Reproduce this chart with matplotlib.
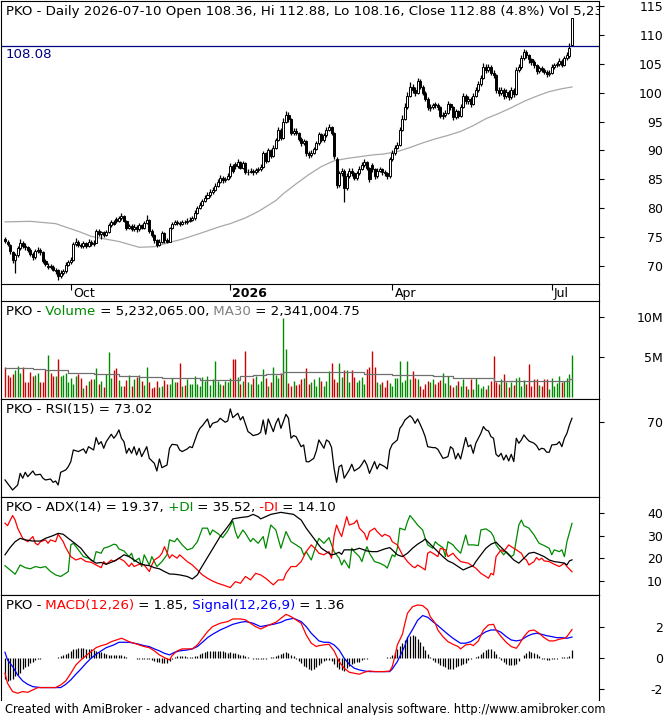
import numpy as np
import matplotlib
matplotlib.use("Agg")
import matplotlib.pyplot as plt

# ---- daily bars (bar number 0 .. 224, last bar = 2026-07-10) ----
bar_open = [
    74.6, 74.2, 73.6, 72.4, 71.0, 71.8, 73.0, 74.0, 73.5, 73.2,
    72.8, 72.0, 71.5, 72.5, 72.8, 72.3, 70.8, 69.7, 70.0, 69.8,
    69.0, 69.2, 68.3, 68.8, 69.0, 70.2, 70.6, 71.0, 73.8, 74.2,
    73.6, 73.4, 73.9, 73.5, 74.2, 73.8, 74.0, 76.0, 75.5, 75.8,
    75.4, 75.8, 77.0, 77.5, 78.1, 77.8, 78.2, 78.6, 77.8, 76.6,
    76.9, 76.4, 76.8, 76.3, 77.0, 76.6, 77.4, 78.0, 76.0, 75.3,
    74.4, 73.6, 74.2, 75.6, 74.4, 74.2, 76.5, 77.2, 77.6, 77.4,
    77.3, 77.6, 77.5, 77.8, 78.0, 78.2, 79.2, 80.0, 80.5, 81.2,
    81.8, 82.3, 82.8, 83.2, 83.8, 84.5, 85.2, 84.8, 85.0, 85.5,
    87.3, 87.6, 87.3, 88.0, 87.0, 87.8, 86.2, 86.3, 86.5, 86.2,
    86.6, 86.8, 87.2, 89.5, 88.2, 90.0, 89.0, 90.5, 91.8, 93.5,
    92.2, 95.0, 96.2, 95.5, 93.0, 93.4, 93.0, 92.0, 91.2, 91.6,
    89.5, 89.2, 89.6, 90.2, 91.2, 92.8, 91.8, 92.6, 93.6, 94.0,
    93.0, 88.5, 84.0, 86.0, 86.5, 83.5, 85.5, 86.5, 86.0, 85.2,
    86.0, 86.8, 87.5, 88.0, 87.0, 87.5, 86.8, 85.5, 86.5, 86.8,
    86.2, 86.0, 85.5, 88.5, 89.5, 90.5, 91.0, 93.5, 95.5, 97.5,
    99.5, 101.0, 100.5, 100.0, 102.0, 101.0, 100.0, 99.0, 97.3, 97.5,
    98.0, 97.8, 97.5, 96.0, 96.2, 96.5, 98.0, 97.5, 95.8, 96.8,
    96.0, 97.5, 99.5, 98.5, 99.0, 98.0, 99.5, 100.5, 101.5, 102.5,
    104.5, 104.0, 104.5, 103.5, 103.0, 100.5, 100.0, 100.5, 99.5, 100.2,
    99.3, 100.5, 99.8, 104.0, 104.5, 106.0, 107.0, 106.5, 105.8, 105.3,
    104.8, 103.8, 104.3, 104.0, 103.6, 103.2, 103.5, 104.5, 104.8, 105.0,
    105.5, 104.8, 106.0, 106.3, 108.36]
bar_high = [
    75.0, 74.5, 73.8, 72.6, 72.2, 73.4, 74.6, 74.3, 73.9, 73.5,
    73.0, 72.3, 72.9, 73.2, 73.0, 72.5, 71.2, 70.4, 70.3, 70.1,
    69.6, 69.5, 69.2, 69.5, 70.6, 71.0, 71.5, 74.2, 74.8, 74.5,
    74.0, 74.3, 74.2, 74.6, 74.5, 74.4, 76.4, 76.3, 76.0, 76.1,
    76.2, 77.4, 78.0, 77.9, 78.4, 78.6, 79.1, 78.8, 78.0, 77.3,
    77.2, 77.2, 77.0, 77.4, 77.3, 77.8, 78.8, 78.1, 76.3, 75.5,
    74.6, 74.6, 76.0, 75.8, 74.8, 76.8, 77.6, 78.0, 77.9, 77.8,
    78.0, 77.9, 78.2, 78.4, 78.6, 79.6, 80.4, 81.0, 81.6, 82.3,
    82.8, 83.3, 83.6, 84.3, 85.0, 85.7, 85.5, 85.4, 86.0, 87.8,
    87.6, 88.0, 88.5, 88.2, 88.2, 88.0, 86.7, 86.9, 86.8, 87.0,
    87.2, 87.6, 89.9, 89.7, 90.4, 90.3, 90.9, 92.2, 94.0, 93.8,
    95.6, 96.8, 96.6, 95.7, 93.9, 93.8, 93.2, 92.3, 92.0, 91.8,
    89.9, 90.0, 90.6, 91.6, 93.2, 93.0, 93.0, 94.0, 94.5, 94.2,
    93.2, 88.8, 86.5, 87.0, 86.7, 86.0, 87.0, 86.9, 86.3, 86.4,
    87.3, 88.0, 88.5, 88.2, 87.2, 87.9, 87.0, 86.9, 87.2, 87.0,
    86.6, 86.3, 88.9, 90.0, 91.0, 91.5, 94.0, 96.2, 98.2, 100.2,
    101.8, 101.6, 101.0, 102.6, 102.3, 101.3, 100.3, 99.3, 98.0, 98.3,
    98.4, 98.2, 97.7, 96.7, 97.0, 98.5, 98.3, 97.7, 97.2, 97.0,
    98.0, 100.0, 99.8, 99.5, 99.3, 100.0, 101.0, 102.0, 103.0, 105.2,
    105.0, 105.0, 104.8, 104.0, 103.2, 101.0, 101.0, 100.8, 100.7, 100.5,
    101.0, 100.8, 104.5, 105.0, 106.6, 107.6, 107.4, 106.8, 106.1, 105.6,
    105.0, 104.7, 104.6, 104.3, 103.9, 103.9, 104.9, 105.2, 105.4, 106.0,
    105.8, 106.4, 107.0, 108.6, 112.88]
bar_low = [
    73.9, 73.4, 72.0, 70.4, 68.8, 71.5, 72.7, 73.1, 72.8, 72.4,
    71.6, 71.0, 71.2, 72.2, 71.9, 70.5, 70.0, 69.4, 69.4, 69.0,
    68.6, 67.6, 67.9, 68.4, 68.8, 69.9, 70.3, 70.8, 73.4, 73.2,
    73.0, 73.1, 73.1, 73.3, 73.4, 73.5, 73.9, 75.1, 74.6, 75.0,
    75.1, 75.6, 76.8, 77.0, 77.4, 77.5, 78.0, 77.5, 76.2, 76.3,
    76.0, 76.1, 75.9, 76.0, 76.3, 76.4, 77.2, 75.7, 75.0, 74.0,
    73.3, 73.4, 74.0, 74.0, 73.9, 74.1, 76.3, 77.0, 77.1, 76.9,
    77.1, 77.2, 77.3, 77.6, 77.8, 78.0, 79.0, 79.8, 80.3, 81.0,
    81.6, 82.0, 82.5, 83.0, 83.6, 84.3, 84.4, 84.5, 84.8, 85.3,
    86.1, 86.8, 87.0, 86.7, 86.8, 85.9, 85.8, 86.0, 85.8, 85.9,
    86.3, 86.5, 87.0, 87.9, 88.0, 88.7, 88.8, 90.3, 91.6, 91.8,
    92.0, 94.7, 95.0, 92.6, 92.6, 92.6, 91.6, 90.8, 90.9, 89.1,
    88.7, 88.9, 89.3, 90.0, 91.0, 91.4, 91.5, 92.4, 93.3, 92.6,
    88.5, 83.5, 83.6, 85.6, 81.0, 83.2, 85.2, 85.6, 84.8, 84.9,
    85.8, 86.6, 87.2, 86.6, 84.6, 86.3, 85.0, 85.3, 86.2, 85.8,
    85.6, 85.0, 85.3, 88.2, 89.2, 90.2, 90.8, 93.3, 95.2, 97.2,
    99.2, 100.0, 99.5, 99.8, 100.6, 99.6, 98.6, 97.0, 96.8, 97.1,
    97.3, 97.0, 95.6, 95.5, 95.8, 96.3, 97.0, 95.3, 95.5, 95.6,
    95.8, 97.3, 98.0, 98.1, 97.6, 97.8, 99.2, 100.2, 101.2, 102.3,
    103.5, 103.6, 103.0, 102.5, 100.0, 99.4, 99.6, 99.0, 99.1, 98.8,
    99.0, 99.3, 99.6, 103.6, 104.2, 105.6, 106.0, 105.2, 104.8, 104.3,
    103.3, 103.4, 103.6, 103.2, 102.8, 102.9, 103.3, 104.2, 104.5, 104.7,
    104.4, 104.6, 105.7, 106.0, 108.16]
bar_close = [
    74.3, 73.8, 72.5, 71.0, 71.8, 73.0, 74.0, 73.5, 73.2, 72.8,
    72.0, 71.5, 72.5, 72.8, 72.3, 70.8, 70.3, 70.0, 69.8, 69.3,
    69.2, 68.3, 68.8, 69.0, 70.2, 70.6, 71.0, 73.8, 74.2, 73.6,
    73.4, 73.9, 73.5, 74.2, 73.8, 74.0, 76.0, 75.5, 75.8, 75.4,
    75.8, 77.0, 77.5, 77.3, 77.8, 78.2, 78.6, 77.8, 76.6, 76.9,
    76.4, 76.8, 76.3, 77.0, 76.6, 77.4, 78.0, 76.0, 75.3, 74.4,
    73.6, 74.2, 75.6, 74.4, 74.2, 76.5, 77.2, 77.6, 77.4, 77.3,
    77.6, 77.5, 77.8, 78.0, 78.2, 79.2, 80.0, 80.5, 81.2, 81.8,
    82.3, 82.8, 83.2, 83.8, 84.5, 85.2, 84.8, 85.0, 85.5, 87.3,
    86.5, 87.3, 88.0, 87.0, 87.8, 86.3, 86.3, 86.5, 86.2, 86.6,
    86.8, 87.2, 89.5, 88.2, 90.0, 89.0, 90.5, 91.8, 93.5, 92.2,
    95.0, 96.2, 95.5, 93.0, 93.4, 93.0, 92.0, 91.2, 91.6, 89.5,
    89.2, 89.6, 90.2, 91.2, 92.8, 91.8, 92.6, 93.6, 94.0, 93.0,
    89.0, 84.0, 86.0, 86.5, 83.5, 85.5, 86.5, 86.0, 85.2, 86.0,
    86.8, 87.5, 88.0, 87.0, 85.0, 86.8, 85.5, 86.5, 86.8, 86.2,
    86.0, 85.5, 88.5, 89.5, 90.5, 91.0, 93.5, 95.5, 97.5, 99.5,
    101.0, 100.5, 100.0, 102.0, 101.0, 100.0, 99.0, 97.5, 97.5, 97.8,
    97.8, 97.5, 96.0, 96.2, 96.5, 98.0, 97.5, 95.8, 96.8, 96.0,
    97.5, 99.5, 98.5, 99.0, 98.0, 99.5, 100.5, 101.5, 102.5, 104.5,
    104.0, 104.5, 103.5, 103.0, 100.5, 100.0, 100.5, 99.5, 100.2, 99.3,
    100.5, 99.8, 104.0, 104.5, 106.0, 107.0, 106.5, 105.8, 105.3, 104.8,
    103.8, 104.3, 104.0, 103.6, 103.2, 103.5, 104.5, 104.8, 105.0, 105.5,
    104.8, 106.0, 106.5, 107.7, 112.88]

# volume in millions of shares
volume_m = [
    3.8, 2.7, 2.5, 2.8, 3.4, 3.9, 3.0, 3.7, 1.8, 1.8,
    3.1, 2.6, 2.7, 3.0, 1.8, 1.8, 3.4, 5.25, 3.0, 2.6,
    2.6, 4.75, 2.6, 2.7, 3.0, 1.8, 2.3, 1.6, 2.6, 2.8,
    2.3, 1.1, 1.5, 2.0, 2.2, 2.2, 3.65, 1.6, 2.0, 1.2,
    2.8, 5.6, 2.4, 3.4, 3.6, 2.1, 1.4, 1.3, 2.1, 2.7,
    1.4, 2.2, 2.5, 2.7, 2.0, 1.5, 3.8, 1.9, 1.1, 1.2,
    2.0, 1.2, 1.4, 2.1, 1.6, 1.6, 2.4, 1.8, 1.9, 4.3,
    1.3, 1.5, 2.2, 1.6, 1.6, 2.6, 1.6, 1.4, 2.5, 2.0,
    2.6, 1.5, 2.2, 4.5, 2.0, 1.6, 1.5, 2.0, 1.9, 2.4,
    4.75, 4.75, 2.5, 1.6, 2.0, 5.75, 1.8, 1.6, 2.3, 2.6,
    1.6, 2.0, 3.5, 2.4, 1.4, 1.9, 3.7, 2.7, 2.3, 3.0,
    9.95, 6.0, 1.7, 1.4, 2.0, 1.5, 1.6, 2.2, 2.3, 3.6,
    1.6, 1.9, 2.2, 1.4, 2.5, 2.0, 1.3, 2.0, 3.2, 4.3,
    2.2, 1.9, 4.2, 2.5, 3.3, 3.4, 1.8, 3.4, 2.5, 1.9,
    2.1, 2.5, 1.6, 3.5, 3.8, 5.75, 3.7, 1.9, 1.6, 1.9,
    1.2, 2.1, 1.7, 1.4, 2.3, 2.4, 4.5, 1.8, 2.1, 4.5,
    2.2, 3.2, 2.4, 2.2, 1.3, 1.0, 1.6, 2.0, 1.9, 2.2,
    1.6, 1.9, 2.1, 3.0, 1.7, 2.6, 1.5, 1.2, 1.5, 2.0,
    1.3, 2.2, 1.3, 1.0, 2.2, 1.0, 2.3, 1.6, 1.1, 1.4,
    1.0, 1.5, 2.0, 5.1, 1.8, 1.6, 2.2, 2.8, 1.8, 1.2,
    1.8, 1.5, 2.3, 2.5, 1.4, 2.1, 1.6, 4.1, 1.3, 2.2,
    2.2, 1.5, 1.3, 2.2, 2.2, 1.0, 2.3, 1.4, 1.7, 2.6,
    1.8, 2.0, 2.3, 2.8, 5.232065]

# moving averages: (bar, value)
price_ma = [(0, 77.6), (10, 77.7), (20, 77.3), (30, 75.8), (34, 75.1), (40, 74.6),
            (45, 74.2), (53, 73.2), (59, 73.3), (65, 74.05), (70, 74.6), (77, 75.6),
            (85, 76.8), (89, 77.3), (95, 78.3), (100, 79.4), (103, 80.2), (107, 81.3),
            (110, 82.5), (115, 84.2), (120, 85.8), (125, 87.2), (130, 88.2), (135, 88.6),
            (140, 88.9), (145, 89.2), (150, 89.4), (155, 89.8), (160, 90.5), (165, 91.3),
            (170, 92.0), (175, 92.6), (180, 93.3), (185, 94.3), (190, 95.5), (195, 96.4),
            (200, 97.4), (205, 98.5), (210, 99.4), (215, 100.2), (220, 100.7), (224, 101.0)]
volume_ma = [(0, 3.6), (11, 3.5), (16, 3.3), (25, 3.0), (35, 2.8), (45, 2.6), (53, 2.5),
             (62, 2.4), (72, 2.3), (77, 2.1), (90, 2.1), (93, 2.6), (98, 2.7), (103, 2.9),
             (109, 2.9), (110, 3.1), (120, 3.1), (130, 3.1), (142, 2.8), (152, 2.8),
             (153, 2.7), (168, 2.7), (169, 2.6), (176, 2.6), (177, 2.3), (192, 2.3),
             (193, 2.0), (221, 2.0), (223, 2.2), (224, 2.34)]

rsi_pts = [
    (0, 26.3), (3, 18.7), (5, 22.5), (6, 31.3), (7, 27.6), (8, 32.1), (9, 28.8), (11, 33.1),
    (12, 30.1), (14, 30.6), (15, 27.6), (16, 26.3), (18, 27.0), (19, 24.5), (20, 25.5),
    (21, 22.5), (22, 32.1), (24, 33.9), (25, 36.4), (26, 40.2), (27, 49.0), (29, 47.8),
    (31, 49.8), (32, 46.5), (33, 51.5), (35, 49.0), (36, 58.4), (37, 53.3), (38, 55.3),
    (39, 50.3), (40, 55.3), (42, 60.9), (43, 57.9), (44, 60.4), (45, 64.2), (46, 57.9),
    (47, 55.3), (48, 46.5), (49, 50.3), (50, 46.5), (51, 51.5), (52, 45.2), (53, 50.3),
    (54, 44.0), (56, 51.5), (57, 42.7), (59, 38.9), (60, 33.1), (61, 42.2), (62, 35.6),
    (64, 37.6), (65, 50.3), (66, 53.3), (68, 52.8), (69, 49.0), (70, 47.8), (72, 49.8),
    (73, 51.5), (74, 50.8), (76, 61.6), (77, 65.4), (78, 67.4), (80, 72.5), (81, 65.9),
    (82, 69.2), (84, 70.5), (85, 73.0), (87, 70.0), (88, 71.0), (89, 80.1), (90, 73.5),
    (92, 76.8), (93, 71.7), (94, 74.3), (96, 62.9), (97, 61.6), (98, 59.9), (100, 60.9),
    (101, 62.4), (102, 71.7), (103, 60.9), (104, 72.5), (106, 62.9), (107, 69.2),
    (108, 73.0), (109, 65.4), (111, 76.0), (112, 73.0), (113, 57.9), (114, 59.9),
    (115, 59.1), (117, 51.5), (118, 52.8), (119, 40.2), (120, 40.0), (122, 42.7),
    (123, 48.3), (124, 56.6), (126, 50.3), (127, 56.6), (128, 55.3), (129, 51.0),
    (130, 35.1), (131, 24.5), (132, 36.4), (133, 37.6), (134, 27.6), (136, 33.9),
    (137, 38.2), (138, 33.1), (140, 35.6), (141, 38.2), (142, 41.4), (143, 37.6),
    (144, 31.3), (146, 40.2), (147, 34.6), (148, 38.4), (150, 36.4), (151, 34.6),
    (152, 49.0), (153, 53.3), (155, 56.6), (156, 65.4), (157, 68.0), (158, 71.7),
    (160, 75.0), (161, 73.0), (162, 69.2), (163, 72.5), (164, 68.5), (165, 64.2),
    (166, 59.1), (167, 51.5), (169, 50.8), (170, 50.8), (171, 49.5), (173, 42.7),
    (174, 43.2), (175, 44.0), (176, 51.5), (177, 49.8), (178, 42.2), (179, 46.5),
    (180, 42.2), (181, 50.3), (182, 58.4), (183, 51.5), (184, 52.8), (185, 46.5),
    (186, 54.1), (187, 57.9), (188, 61.6), (189, 66.7), (190, 64.2), (191, 63.4),
    (192, 59.1), (193, 57.9), (194, 45.7), (195, 44.0), (196, 46.5), (197, 41.4),
    (198, 45.2), (199, 40.7), (200, 45.7), (201, 40.2), (202, 57.9), (203, 54.1),
    (204, 56.6), (205, 60.4), (206, 57.9), (207, 55.8), (209, 54.1), (210, 52.3),
    (211, 49.0), (212, 50.3), (213, 49.8), (214, 47.3), (215, 47.3), (216, 52.8),
    (218, 53.3), (219, 55.3), (220, 51.5), (221, 57.9), (222, 61.6), (223, 68.0),
    (224, 73.02)]

adx_pts = [
    (0, 21.6), (2, 24.8), (4, 27.4), (6, 28.9), (8, 28.2), (11, 27.7), (14, 27.7), (16, 28.9),
    (19, 30.1), (21, 31.1), (23, 30.7), (25, 28.9), (27, 27.2), (30, 24.5), (32, 21.6),
    (34, 19.3), (36, 17.9), (38, 18.2), (40, 17.4), (42, 18.3), (44, 19.3), (46, 20.8),
    (47, 21.6), (49, 20.8), (51, 19.3), (53, 17.9), (55, 17.1), (57, 16.8), (59, 15.9),
    (61, 15.4), (63, 14.2), (65, 13.1), (67, 13.0), (69, 12.7), (72, 12.0), (74, 10.9),
    (76, 12.7), (77, 14.9), (79, 18.6), (81, 22.3), (83, 26.0), (85, 29.7), (87, 32.6),
    (89, 35.6), (90, 37.5), (93, 38.1), (96, 38.5), (98, 39.5), (100, 38.5), (101, 37.5),
    (103, 38.5), (105, 39.5), (109, 40.4), (114, 39.5), (117, 37.0), (119, 33.4),
    (121, 30.4), (123, 27.4), (125, 24.5), (127, 23.0), (129, 21.6), (130, 21.8),
    (132, 22.7), (133, 21.8), (134, 23.8), (136, 23.8), (138, 23.8), (140, 24.5),
    (141, 24.1), (143, 23.3), (145, 23.0), (147, 23.0), (149, 23.8), (150, 24.2),
    (152, 24.8), (153, 23.8), (155, 21.6), (157, 20.8), (159, 22.3), (161, 24.5),
    (163, 26.3), (165, 27.7), (166, 28.6), (167, 27.4), (169, 25.2), (171, 23.0),
    (173, 20.8), (175, 18.9), (177, 17.9), (179, 16.4), (181, 14.9), (183, 15.9),
    (185, 16.8), (186, 18.6), (188, 21.6), (190, 24.5), (192, 26.3), (194, 27.2),
    (195, 26.0), (197, 23.8), (199, 21.6), (201, 19.3), (203, 17.9), (205, 20.1),
    (207, 22.3), (209, 22.7), (211, 21.8), (213, 20.8), (215, 19.3), (217, 18.6),
    (219, 18.3), (221, 17.9), (222, 17.1), (223, 18.9), (224, 19.37)]

plus_di_pts = [
    (0, 16.8), (2, 14.9), (4, 13.0), (6, 17.1), (8, 15.9), (10, 15.4), (12, 16.4), (14, 15.9),
    (16, 16.4), (18, 14.2), (20, 12.7), (22, 12.0), (24, 13.4), (25, 14.2), (26, 26.0),
    (27, 26.7), (29, 23.8), (31, 20.8), (33, 20.1), (35, 18.6), (36, 23.0), (38, 22.3),
    (39, 24.5), (41, 25.2), (43, 26.3), (44, 26.0), (45, 24.2), (47, 23.3), (49, 20.8),
    (50, 22.3), (51, 18.6), (53, 20.1), (54, 16.4), (55, 21.6), (57, 17.1), (58, 20.8),
    (60, 16.4), (62, 18.6), (64, 21.6), (65, 28.2), (67, 27.4), (68, 28.9), (70, 26.0),
    (72, 23.8), (74, 24.5), (76, 27.4), (78, 33.4), (80, 33.4), (81, 30.4), (82, 32.6),
    (84, 31.1), (86, 29.2), (88, 32.2), (90, 36.6), (91, 31.9), (92, 28.9), (94, 32.6),
    (95, 31.1), (97, 27.4), (98, 28.9), (100, 26.7), (102, 29.7), (103, 24.5), (105, 34.8),
    (107, 32.6), (109, 24.5), (111, 31.9), (112, 29.7), (113, 27.4), (115, 26.0),
    (117, 24.5), (118, 21.6), (119, 23.0), (121, 19.3), (123, 26.0), (124, 28.9),
    (126, 26.7), (128, 29.2), (130, 23.0), (132, 20.1), (133, 17.1), (134, 19.3),
    (136, 15.7), (137, 24.5), (138, 23.0), (140, 20.8), (141, 18.6), (142, 22.3),
    (143, 25.2), (144, 22.3), (146, 18.6), (148, 17.9), (150, 16.8), (151, 15.7),
    (153, 21.6), (154, 20.8), (155, 24.5), (156, 33.4), (158, 32.6), (159, 36.3),
    (160, 39.0), (162, 36.3), (163, 34.8), (165, 32.6), (166, 28.9), (167, 26.0),
    (169, 24.5), (170, 27.4), (171, 26.3), (173, 24.8), (174, 20.8), (175, 27.4),
    (177, 26.0), (178, 24.5), (180, 22.3), (182, 30.4), (183, 26.0), (185, 26.0),
    (187, 25.7), (188, 32.6), (190, 33.1), (192, 31.6), (193, 29.7), (194, 26.0),
    (196, 23.0), (197, 21.6), (198, 23.0), (200, 20.8), (201, 21.6), (203, 34.8),
    (204, 37.0), (205, 34.5), (207, 33.4), (209, 30.4), (211, 26.7), (213, 25.7),
    (215, 24.5), (216, 21.6), (217, 23.8), (219, 23.0), (220, 23.8), (221, 20.8),
    (222, 27.4), (224, 35.52)]

minus_di_pts = [
    (0, 35.6), (1, 34.5), (3, 39.0), (4, 37.0), (5, 33.4), (7, 28.9), (8, 28.2), (9, 27.4),
    (11, 29.7), (12, 26.7), (13, 26.0), (14, 27.4), (16, 28.2), (17, 26.7), (18, 28.2),
    (20, 27.4), (21, 30.7), (23, 27.4), (24, 24.8), (26, 20.8), (28, 19.3), (30, 20.1),
    (32, 18.6), (34, 18.3), (36, 17.1), (38, 15.9), (39, 18.6), (40, 17.4), (42, 19.3),
    (43, 18.6), (45, 20.1), (47, 18.9), (49, 16.4), (50, 17.9), (51, 16.4), (53, 17.4),
    (55, 17.1), (57, 14.2), (58, 17.1), (59, 19.3), (61, 20.8), (62, 22.3), (63, 25.2),
    (65, 20.1), (66, 21.6), (68, 20.1), (69, 21.6), (72, 18.6), (74, 17.1), (76, 14.9),
    (78, 12.7), (80, 11.2), (82, 10.0), (84, 9.0), (86, 8.3), (89, 7.1), (91, 9.7),
    (93, 9.0), (95, 12.0), (97, 10.5), (99, 13.4), (101, 12.7), (103, 11.2), (106, 8.3),
    (108, 10.5), (110, 10.5), (111, 13.4), (113, 16.4), (115, 16.4), (117, 18.6),
    (119, 23.0), (121, 26.0), (123, 23.8), (124, 22.3), (126, 21.6), (128, 23.0),
    (129, 20.1), (130, 30.0), (131, 34.8), (132, 31.9), (133, 29.7), (134, 34.1),
    (135, 38.5), (136, 34.8), (138, 35.6), (139, 37.0), (140, 33.4), (142, 31.1),
    (143, 28.2), (144, 31.9), (146, 33.4), (147, 31.9), (149, 29.7), (150, 30.7),
    (152, 29.7), (153, 27.4), (155, 26.0), (157, 21.6), (159, 18.6), (161, 16.4),
    (162, 15.9), (163, 17.1), (165, 15.7), (166, 14.9), (167, 22.3), (168, 23.0),
    (170, 21.6), (171, 20.8), (172, 24.5), (174, 23.8), (175, 20.8), (177, 22.3),
    (178, 20.8), (180, 18.6), (183, 17.9), (184, 17.1), (186, 15.7), (188, 13.4),
    (190, 12.0), (191, 11.2), (192, 13.4), (193, 12.7), (194, 20.8), (196, 23.8),
    (197, 23.0), (199, 26.0), (200, 25.2), (201, 24.5), (202, 23.8), (204, 22.3),
    (205, 20.1), (206, 19.3), (207, 17.1), (209, 18.6), (210, 20.4), (211, 19.3),
    (212, 20.1), (213, 18.9), (215, 18.6), (217, 17.4), (219, 16.4), (221, 17.9),
    (222, 16.4), (224, 14.10)]

macd_pts = [
    (0, -1.00), (1, -1.65), (3, -2.19), (5, -2.30), (7, -2.19), (9, -2.24), (11, -2.08),
    (13, -1.93), (15, -1.93), (18, -1.93), (20, -1.93), (22, -1.76), (24, -1.50),
    (26, -1.00), (28, -0.46), (30, -0.13), (32, 0.15), (34, 0.41), (36, 0.67), (38, 0.80),
    (40, 0.89), (42, 1.06), (44, 1.17), (46, 1.28), (47, 1.22), (49, 1.06), (51, 0.96),
    (53, 0.85), (55, 0.74), (57, 0.67), (59, 0.46), (61, 0.20), (63, 0.02), (65, -0.13),
    (66, 0.15), (68, 0.46), (70, 0.59), (72, 0.59), (74, 0.59), (76, 0.85), (78, 1.28),
    (80, 1.71), (82, 2.04), (85, 2.26), (88, 2.37), (90, 2.54), (93, 2.54), (95, 2.48),
    (97, 2.26), (99, 2.04), (101, 1.89), (103, 2.04), (105, 2.19), (107, 2.32),
    (109, 2.58), (111, 2.84), (113, 2.69), (115, 2.48), (117, 2.26), (119, 1.50),
    (121, 0.96), (123, 0.74), (124, 0.80), (126, 0.85), (128, 0.89), (130, 0.46),
    (132, -0.24), (134, -0.67), (136, -0.93), (138, -1.00), (140, -1.06), (142, -0.93),
    (144, -0.85), (146, -0.89), (148, -0.89), (150, -0.89), (152, -0.85), (153, -0.56),
    (154, 0.09), (155, 0.85), (157, 1.54), (158, 2.26), (159, 2.91), (161, 3.34),
    (163, 3.45), (165, 3.41), (167, 3.13), (168, 2.69), (170, 2.26), (171, 1.82),
    (173, 1.39), (175, 1.06), (177, 0.89), (179, 0.74), (180, 0.59), (182, 0.85),
    (184, 0.89), (185, 0.80), (187, 1.11), (189, 1.82), (191, 2.15), (193, 2.19),
    (194, 1.82), (196, 1.39), (198, 1.02), (200, 0.74), (202, 0.63), (203, 0.85),
    (205, 1.39), (207, 1.76), (209, 1.82), (211, 1.61), (213, 1.32), (215, 1.11),
    (217, 1.11), (219, 1.22), (221, 1.28), (222, 1.39), (224, 1.85)]

signal_pts = [
    (0, 0.37), (1, -0.13), (3, -0.56), (5, -1.11), (7, -1.50), (9, -1.72), (11, -1.87),
    (14, -1.93), (16, -1.93), (19, -1.93), (22, -1.93), (24, -1.72), (26, -1.43),
    (28, -1.06), (30, -0.72), (32, -0.35), (34, -0.02), (36, 0.24), (38, 0.46), (40, 0.67),
    (43, 0.85), (45, 1.02), (47, 1.02), (49, 1.02), (51, 0.96), (53, 0.89), (55, 0.80),
    (57, 0.74), (59, 0.59), (61, 0.46), (63, 0.30), (65, 0.20), (67, 0.37), (69, 0.46),
    (72, 0.52), (74, 0.59), (76, 0.74), (78, 1.02), (80, 1.32), (82, 1.54), (85, 1.82),
    (88, 2.04), (90, 2.19), (93, 2.32), (95, 2.37), (98, 2.26), (101, 2.04), (103, 2.11),
    (106, 2.19), (109, 2.32), (111, 2.48), (114, 2.58), (117, 2.37), (119, 2.04),
    (121, 1.61), (123, 1.28), (124, 1.11), (126, 1.02), (128, 1.02), (130, 0.85),
    (132, 0.52), (134, -0.02), (136, -0.41), (138, -0.67), (140, -0.78), (142, -0.85),
    (144, -0.89), (146, -0.89), (148, -0.89), (150, -0.89), (152, -0.89), (153, -0.72),
    (155, -0.24), (156, 0.10), (158, 0.80), (159, 1.30), (161, 1.85), (163, 2.45),
    (165, 2.76), (167, 2.65), (169, 2.37), (171, 2.11), (173, 1.82), (175, 1.54),
    (177, 1.28), (179, 1.06), (180, 0.96), (182, 0.96), (184, 1.06), (186, 1.28),
    (188, 1.50), (190, 1.71), (192, 1.82), (194, 1.82), (196, 1.67), (198, 1.39),
    (200, 1.17), (202, 1.11), (204, 1.17), (206, 1.39), (208, 1.54), (210, 1.61),
    (212, 1.54), (214, 1.45), (216, 1.39), (218, 1.32), (220, 1.32), (222, 1.28),
    (224, 1.36)]

macd_hist = [
    -1.35, -1.5, -1.45, -1.35, -1.2, -1.1, -0.95, -0.75, -0.6, -0.5,
    -0.35, -0.25, -0.15, -0.08, -0.04, -0.02, 0.0, 0.0, 0.0, 0.02,
    0.02, 0.05, 0.1, 0.18, 0.25, 0.35, 0.45, 0.55, 0.6, 0.62,
    0.65, 0.63, 0.6, 0.58, 0.55, 0.5, 0.45, 0.4, 0.36, 0.3,
    0.26, 0.22, 0.22, 0.2, 0.18, 0.2, 0.22, 0.15, 0.05, 0.02,
    -0.02, -0.02, -0.04, -0.05, -0.05, -0.07, -0.05, -0.1, -0.15, -0.2,
    -0.25, -0.28, -0.3, -0.32, -0.3, -0.2, -0.05, 0.05, 0.1, 0.12,
    0.12, 0.1, 0.08, 0.05, 0.05, 0.1, 0.15, 0.25, 0.3, 0.38,
    0.42, 0.45, 0.48, 0.48, 0.45, 0.45, 0.42, 0.38, 0.35, 0.4,
    0.35, 0.3, 0.28, 0.22, 0.18, 0.1, 0.05, 0.0, -0.05, -0.08,
    -0.1, -0.1, -0.04, -0.05, 0.02, 0.05, 0.08, 0.12, 0.2, 0.25,
    0.35, 0.38, 0.32, 0.2, 0.1, -0.05, -0.2, -0.35, -0.5, -0.62,
    -0.72, -0.78, -0.75, -0.6, -0.45, -0.32, -0.2, -0.15, -0.12, -0.2,
    -0.38, -0.6, -0.75, -0.8, -0.85, -0.65, -0.52, -0.4, -0.35, -0.28,
    -0.25, -0.15, -0.08, -0.05, -0.02, 0.0, 0.0, 0.02, 0.02, 0.02,
    0.0, 0.03, 0.05, 0.22, 0.35, 0.55, 0.8, 1.0, 1.2, 1.35,
    1.45, 1.5, 1.4, 1.25, 1.05, 0.75, 0.5, 0.25, 0.05, -0.12,
    -0.25, -0.35, -0.45, -0.55, -0.62, -0.7, -0.72, -0.7, -0.62, -0.55,
    -0.48, -0.4, -0.3, -0.15, -0.05, 0.02, 0.05, 0.12, 0.25, 0.4,
    0.5, 0.6, 0.55, 0.45, 0.25, 0.05, -0.15, -0.28, -0.38, -0.45,
    -0.48, -0.45, -0.38, -0.2, 0.0, 0.2, 0.35, 0.42, 0.4, 0.32,
    0.25, 0.1, -0.05, -0.1, -0.15, -0.12, -0.1, -0.08, -0.05, -0.02,
    0.03, 0.05, 0.05, 0.1, 0.49]

date_tick_bars = [26, 89, 153, 216]
date_tick_labels = ['Oct', '2026', 'Apr', 'Jul']
level_line = 108.08

W, H = 668, 715
X_LEFT, X_RIGHT = -1.58, 234.67
GREEN, RED = '#008a00', '#ff0000'
TITLE_SIZE = 9.6


def box(x0, y0, x1, y1):
    """pixel box (top-left origin) -> figure fraction rect"""
    return [x0 / W, 1 - y1 / H, (x1 - x0) / W, (y1 - y0) / H]


def right_axis(ax, ticks, labels):
    ax.set_xlim(X_LEFT, X_RIGHT)
    ax.set_xticks([])
    ax.yaxis.tick_right()
    ax.set_yticks(ticks)
    ax.set_yticklabels(labels)
    ax.tick_params(axis='y', direction='out', length=3.6, width=0.8, pad=42.5, labelsize=9)
    for lab in ax.get_yticklabels():
        lab.set_horizontalalignment('right')
    for sp in ax.spines.values():
        sp.set_linewidth(0.8)


def title(ax, parts, clip=False):
    t = ax.annotate(parts[0][0], xy=(0, 1), xycoords='axes fraction', xytext=(3.6, -10.1),
                    textcoords='offset points', va='baseline', ha='left',
                    color=parts[0][1], fontsize=TITLE_SIZE, clip_on=clip)
    for text, color in parts[1:]:
        t = ax.annotate(text, xy=(1, 0), xycoords=t, va='bottom', ha='left',
                        color=color, fontsize=TITLE_SIZE)


def unzip(pts):
    return [p[0] for p in pts], [p[1] for p in pts]


idx = np.arange(len(bar_close))
o, c = np.array(bar_open), np.array(bar_close)
up = c >= o

fig = plt.figure(figsize=(W / 100, H / 100), dpi=100)

# ---- price panel ----
ax_p = fig.add_axes(box(1, 0.5, 599, 284))
right_axis(ax_p, range(70, 116, 5), [str(v) for v in range(70, 116, 5)])
ax_p.set_ylim(66.83, 116.0)
ax_p.set_xticks(date_tick_bars)
ax_p.tick_params(axis='x', direction='out', length=4.3, width=0.8, labelbottom=False)
ax_p.plot(*unzip(price_ma), color='#a8a8a8', lw=0.9)
ax_p.vlines(idx, bar_low, bar_high, color='black', lw=0.9, zorder=2)
ax_p.bar(idx, np.abs(c - o), bottom=np.minimum(o, c), width=0.8,
         color=np.where(up, 'white', 'black'), edgecolor='black', linewidth=0.7, zorder=3)
ax_p.axhline(level_line, color='#000080', lw=0.9)
ax_p.annotate(f'{level_line:.2f}', xy=(0, level_line), xycoords=('axes fraction', 'data'),
              xytext=(3.6, -8.6), textcoords='offset points', va='baseline',
              color='#000080', fontsize=TITLE_SIZE)
title(ax_p, [('PKO - Daily 2026-07-10 Open 108.36, Hi 112.88, Lo 108.16, Close 112.88 (4.8%) '
              'Vol 5,232,065', 'black')], clip=True)
for b, lab in zip(date_tick_bars, date_tick_labels):
    ax_p.annotate(lab, xy=(b, 0), xycoords=('data', 'axes fraction'), xytext=(1.6, -9.2),
                  textcoords='offset points', va='baseline', ha='left', fontsize=9,
                  fontweight='bold' if lab == '2026' else 'normal')

# date strip under the price panel
ax_d = fig.add_axes(box(1, 284, 599, 301))
ax_d.set_xticks([])
ax_d.set_yticks([])
ax_d.set_facecolor('none')
for name, sp in ax_d.spines.items():
    sp.set_linewidth(0.8)
    sp.set_visible(name in ('left', 'right'))

# ---- volume ----
ax_v = fig.add_axes(box(1, 301, 599, 399))
right_axis(ax_v, [5, 10], ['5M', '10M'])
ax_v.set_ylim(-0.29, 12.05)
ax_v.vlines(idx, 0, volume_m, colors=np.where(up, GREEN, '#cc0000'), lw=1.0)
ax_v.plot(*unzip(volume_ma), color='#707070', lw=0.9, drawstyle='steps-post')
title(ax_v, [('PKO -', 'black'), (' Volume', GREEN), (' = 5,232,065.00,', 'black'),
             (' MA30', '#808080'), (' = 2,341,004.75', 'black')])

# ---- RSI ----
ax_r = fig.add_axes(box(1, 399, 599, 497))
right_axis(ax_r, [70], ['70'])
ax_r.set_ylim(13.4, 87.6)
ax_r.plot(*unzip(rsi_pts), color='black', lw=0.9)
title(ax_r, [('PKO - RSI(15) = 73.02', 'black')])

# ---- ADX ----
ax_a = fig.add_axes(box(1, 497, 599, 595))
right_axis(ax_a, [10, 20, 30, 40], ['10', '20', '30', '40'])
ax_a.set_ylim(3.8, 47.2)
ax_a.plot(*unzip(plus_di_pts), color=GREEN, lw=0.9)
ax_a.plot(*unzip(minus_di_pts), color=RED, lw=0.9)
ax_a.plot(*unzip(adx_pts), color='black', lw=0.9)
title(ax_a, [('PKO - ADX(14) = 19.37,', 'black'), (' +DI', GREEN), (' = 35.52,', 'black'),
             (' -DI', RED), (' = 14.10', 'black')])

# ---- MACD ----
ax_m = fig.add_axes(box(1, 595, 599, 700))
right_axis(ax_m, [-2, 0, 2], ['-2', '0', '2'])
ax_m.spines['bottom'].set_visible(False)
ax_m.set_ylim(-2.74, 4.1)
ax_m.vlines(idx, 0, macd_hist, color='black', lw=0.9)
ax_m.plot(*unzip(signal_pts), color='#0000ff', lw=0.9)
ax_m.plot(*unzip(macd_pts), color=RED, lw=0.9)
title(ax_m, [('PKO -', 'black'), (' MACD(12,26)', RED), (' = 1.85,', 'black'),
             (' Signal(12,26,9)', '#0000ff'), (' = 1.36', 'black')])

fig.text(5 / W, 1 - 713 / H,
         'Created with AmiBroker - advanced charting and technical analysis software. '
         'http://www.amibroker.com', fontsize=8.3, va='baseline', ha='left')

fig.savefig('out.png', dpi=100)
